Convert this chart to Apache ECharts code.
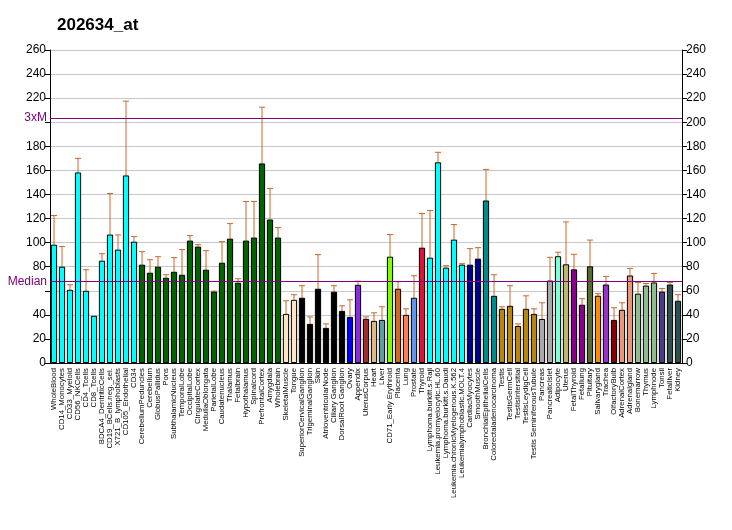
<!DOCTYPE html>
<html><head><meta charset="utf-8">
<script src="https://cdn.jsdelivr.net/npm/echarts@6/dist/echarts.min.js"></script>
<style>html,body{margin:0;padding:0;background:#fff}#c{width:732px;height:530px}</style>
</head><body><div id="c"></div>
<script>
const title = '202634_at';
const categories = ['WholeBlood','CD14_Monocytes','CD33_Myeloid','CD56_NKCells','CD4_Tcells','CD8_Tcells','BDCA4_DentriticCells','CD19_BCells.neg._sel.','X721_B_lymphoblasts','CD105_Endothelial','CD34','CerebellumPeduncles','Cerebellum','GlobusPallidus','Pons','SubthalamicNucleus','TemporalLobe','OccipitalLobe','CingulateCortex','MedullaOblongata','ParietalLobe','Caudatenucleus','Thalamus','Fetalbrain','Hypothalamus','Spinalcord','PrefrontalCortex','Amygdala','Wholebrain','SkeletalMuscle','Tongue','SuperiorCervicalGanglion','TrigeminalGanglion','Skin','AtrioventricularNode','Ciliary Ganglion','DorsalRoot Ganglion','Ovary','Appendix','UterusCorpus','Heart','Liver','CD71_Early Erythroid','Placenta','Lung','Prostate','Thyroid','Lymphoma.burkitt.s.Raji','Leukemia.promyelocytic.HL.60','Lymphoma.burkitt.s.Daudi','Leukemia.chronicMyelogenous.K.562','Leukemialymphoblastic.MOLT.4','CardiacMyocytes','SmoothMuscle','BronchialEpithelialCells','Colorectaladenocarcinoma','Testis','TestisGermCell','TestisIntersitial','TestisLeydigCell','Testis SeminiferousTubule','Pancreas','PancreaticIslet','Adipocyte','Uterus','FetalThyroid','Fetallung','Pituitary','Salivarygland','Trachea','OlfactoryBulb','AdrenalCortex','Adrenalgland','Bonemarrow','Thymus','Lymphnode','Tonsil','Fetalliver','Kidney'];
const values = [98.3,80,60.8,158.3,60,39.2,85,106.7,94.2,155.8,100.8,81.7,75,80,70.8,75.8,73.3,101.7,96.7,77.5,59.2,83.3,103.3,66.7,101.7,104.2,165.8,119.2,104.2,40.8,52.5,54.2,32.5,61.7,29.2,59.2,43.3,38.3,65,36.7,35,35.8,88.3,61.7,40,54.2,95.8,87.5,166.7,79.2,102.5,81.7,81.7,86.7,135,55.8,45,47.5,30.8,45,40.8,36.6,68.5,88.7,82,77.8,48.4,80.3,55.9,65.2,35.8,44.2,72.7,57.6,64.3,66.9,59.3,65.2,51.7];
const errorTops = [122.5,96.7,65,170,77.5,39.2,90.8,140.8,106.4,217.5,105,92.5,85.8,88.3,73.3,87.5,94.2,105.8,98.3,93.3,59.7,100.8,115.8,70,134.2,134.2,212.5,145,112.5,51.7,56.7,64.2,38.3,90,32.5,64.2,47.5,52.5,68,38.3,41.7,46.7,106.7,67.5,45,72.5,124.2,126.7,175,80.8,115,82.5,95,95.8,160.8,73.3,46.7,64.2,32.5,55.8,45,50,87.8,92,117.2,90.3,53.4,102.1,57.6,71.9,45.9,50,78.6,66.9,66,74.4,61.8,66.9,56.8];
const barColors = ['#00FFFF','#00FFFF','#00FFFF','#00FFFF','#00FFFF','#00FFFF','#00FFFF','#00FFFF','#00FFFF','#00FFFF','#00FFFF',
 '#006400','#006400','#006400','#006400','#006400','#006400','#006400','#006400','#006400','#006400','#006400','#006400','#006400','#006400','#006400','#006400','#006400','#006400',
 '#FFE4C4','#FFE4C4','#000000','#000000','#000000','#000000','#000000','#000000',
 '#0000FF','#8A2BE2','#A52A2A','#DEB887','#5F9EA0','#7FFF00','#D2691E','#FF7F50','#6495ED','#DC143C',
 '#00FFFF','#00FFFF','#00FFFF','#00FFFF','#00FFFF','#00008B','#00008B','#008B8B','#008B8B',
 '#B8860B','#B8860B','#B8860B','#B8860B','#B8860B','#A9A9A9','#A9A9A9','#7FFFD4','#BDB76B','#8B008B','#8B008B','#556B2F','#FF8C00','#9932CC','#8B0000','#E9967A','#E9967A','#8FBC8F','#8FBC8F','#8FBC8F','#483D8B','#2F4F4F','#2F4F4F'];
const medianValue = 67.8;
const threeXM = 203.4;
const yMin = 0, yMax = 260, yStep = 20;

const errData = values.map((v,i)=>[i, v, errorTops[i]]);
const font = 'Liberation Sans, Arial, sans-serif';
const chart = echarts.init(document.getElementById('c'));
chart.setOption({
  animation:false,
  title:{text:title,left:52,top:12,textStyle:{fontFamily:font,fontSize:17,fontWeight:'bold',color:'#000'}},
  grid:{left:50,right:50,top:50,bottom:167},
  xAxis:{type:'category',data:categories,
    axisLine:{lineStyle:{color:'#000'}},
    axisTick:{alignWithLabel:true,length:5,lineStyle:{color:'#000'}},
    axisLabel:{interval:0,rotate:90,fontFamily:font,fontSize:7.8,color:'#000',margin:5}},
  yAxis:[
    {type:'value',min:yMin,max:yMax,interval:yStep,position:'left',
     axisLine:{show:true,lineStyle:{color:'#000'}},axisTick:{show:true,length:5,lineStyle:{color:'#000'}},
     axisLabel:{fontFamily:font,fontSize:12,color:'#000',margin:4,formatter:v=>(v===60||v===200)?'':String(v)},
     splitLine:{show:true,lineStyle:{color:'#c8c8c8',width:1}}},
    {type:'value',min:yMin,max:yMax,interval:yStep,position:'right',
     axisLine:{show:true,lineStyle:{color:'#000'}},axisTick:{show:true,length:5,lineStyle:{color:'#000'}},
     axisLabel:{fontFamily:font,fontSize:12,color:'#000',margin:4},
     splitLine:{show:false}}
  ],
  series:[
    {type:'bar',data:values.map((v,i)=>({value:v,itemStyle:{color:barColors[i]}})),
     barCategoryGap:'22%',itemStyle:{borderColor:'#000',borderWidth:1},z:2,
     markLine:{silent:true,symbol:'none',
       lineStyle:{color:'#800080',type:'solid',width:1},
       label:{position:'start',fontFamily:font,fontSize:12,color:'#800080',distance:3},
       data:[{yAxis:medianValue,label:{formatter:'Median'}},{yAxis:threeXM,label:{formatter:'3xM'}}]}},
    {type:'custom',data:errData,z:1,
     renderItem:(params,api)=>{
       const x=api.value(0), lo=api.value(1), hi=api.value(2);
       if(hi<=lo) return null;
       const p1=api.coord([x,lo]), p2=api.coord([x,hi]);
       return {type:'group',children:[
         {type:'line',shape:{x1:p1[0],y1:p1[1],x2:p2[0],y2:p2[1]},style:{stroke:'#C8692E',lineWidth:1}},
         {type:'line',shape:{x1:p2[0]-3,y1:p2[1],x2:p2[0]+3,y2:p2[1]},style:{stroke:'#C8692E',lineWidth:1}}]};
     }}
  ]
});
</script></body></html>
